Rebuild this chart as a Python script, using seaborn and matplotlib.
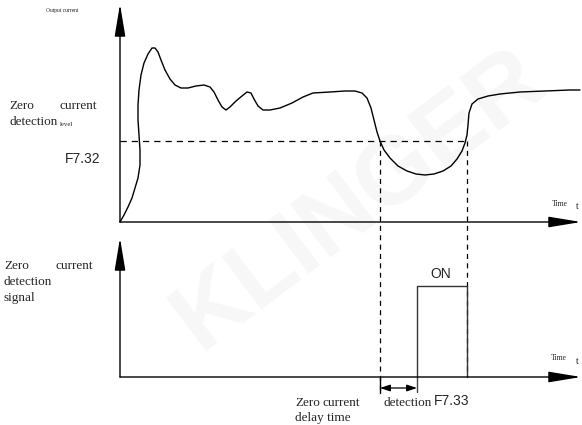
import matplotlib
matplotlib.use("Agg")
import matplotlib.pyplot as plt
import seaborn as sns
import pandas as pd

# ---- data (diagram coordinates, pixel space of the reference) ----
curve_x = [120, 124, 128, 132, 135, 138, 140, 140, 139, 138, 138, 139, 141, 144, 148, 152, 155, 158,
           161, 165, 170, 175, 181, 188, 196, 204, 210, 214, 218, 222, 226, 230, 236, 242, 247, 251,
           254, 258, 263, 270, 280, 292, 303, 313, 330, 345, 355, 362, 367, 371, 374, 377, 380, 384,
           390, 398, 407, 416, 425, 434, 443, 451, 457, 462, 465, 467, 468, 469, 472, 478, 488, 500,
           520, 545, 570, 580]
curve_y = [222, 215, 207, 198, 188, 178, 165, 150, 135, 120, 105, 90, 75, 63, 54, 48, 48, 52,
           60, 70, 79, 85, 88, 88, 86, 85, 87, 92, 100, 107, 110, 107, 101, 96, 92, 93,
           99, 106, 110, 110, 108, 103, 97, 93, 92, 91, 91, 93, 98, 108, 120, 132, 141, 150,
           158, 166, 171, 174, 175, 174, 171, 166, 159, 151, 143, 135, 125, 113, 104, 99, 96, 94,
           92, 91, 90, 90]
level_y = 141
cross_x = [380, 467]
pulse_x = [417, 417, 467, 467]
pulse_y = [377, 286, 286, 377]

sns.set_theme(style="white")
plt.rcParams["font.family"] = ["Liberation Serif", "DejaVu Serif"]

fig = plt.figure(figsize=(5.82, 4.25), dpi=100)
ax = fig.add_axes([0, 0, 1, 1])
ax.set_xlim(0, 582)
ax.set_ylim(425, 0)
ax.axis("off")

# watermark
ax.text(360, 200, "KLINGER", fontsize=70, fontweight="bold", color="#f7f7f7",
        family="Liberation Sans", rotation=37, ha="center", va="center", zorder=0)

ax_lw = 1.0

def arrow(x0, y0, x1, y1):
    ax.annotate("", xy=(x1, y1), xytext=(x0, y0),
                arrowprops=dict(arrowstyle="-|>,head_length=2.0,head_width=0.33",
                                color="black", lw=ax_lw, shrinkA=0, shrinkB=0,
                                mutation_scale=10))

# top axes
arrow(120, 222, 120, 4)
arrow(120, 222, 581, 222)
# bottom axes
arrow(120, 377, 120, 238)
arrow(120, 377, 581, 377)

# curve
df = pd.DataFrame({"x": curve_x, "y": curve_y})
sns.lineplot(data=df, x="x", y="y", sort=False, estimator=None, color="black", lw=1.0, ax=ax)

# dashed threshold & crossing lines
ax.plot([120, cross_x[1]], [level_y, level_y], ls=(0, (5, 4)), color="black", lw=0.9)
ax.plot([cross_x[0], cross_x[0]], [level_y, 390], ls=(0, (4, 3.5)), color="black", lw=0.9)
ax.plot([cross_x[1], cross_x[1]], [level_y, 377], ls=(0, (4, 3.5)), color="black", lw=0.9)

# pulse
sns.lineplot(x=pulse_x, y=pulse_y, sort=False, estimator=None, color="#333333", lw=1.0, ax=ax)

# delay ticks and double arrow
ax.plot([380, 380], [377, 393], color="black", lw=1.0)
ax.plot([417, 417], [377, 392], color="#444444", lw=1.0)
ax.annotate("", xy=(417, 388), xytext=(380, 388),
            arrowprops=dict(arrowstyle="<|-|>,head_length=0.6,head_width=0.2",
                            color="black", lw=0.9, shrinkA=0, shrinkB=0, mutation_scale=10))

# texts
serif = "Liberation Serif"
sans = "Liberation Sans"
fs = 9.5
ax.text(62, 10, "Output current", fontsize=4.0, family=serif, ha="center", va="center")
ax.text(9, 106, "Zero", fontsize=fs, family=serif, ha="left", va="center")
ax.text(97, 106, "current", fontsize=fs, family=serif, ha="right", va="center")
ax.text(9, 122, "detection", fontsize=fs, family=serif, ha="left", va="center")
ax.text(60, 124, "level", fontsize=5, family=serif, ha="left", va="center")
ax.text(65, 159, "F7.32", fontsize=10, family=sans, ha="left", va="center")
ax.text(560, 204, "Time", fontsize=5.5, family=serif, ha="center", va="center")
ax.text(576, 206, "t", fontsize=7, family=serif, ha="left", va="center")

ax.text(4, 266, "Zero", fontsize=fs, family=serif, ha="left", va="center")
ax.text(93, 266, "current", fontsize=fs, family=serif, ha="right", va="center")
ax.text(4, 282, "detection", fontsize=fs, family=serif, ha="left", va="center")
ax.text(4, 298, "signal", fontsize=fs, family=serif, ha="left", va="center")

ax.text(441, 274, "ON", fontsize=10, family=sans, ha="center", va="center")
ax.text(559, 358, "Time", fontsize=5.5, family=serif, ha="center", va="center")
ax.text(576, 362, "t", fontsize=7, family=serif, ha="left", va="center")

ax.text(295, 403, "Zero", fontsize=fs, family=serif, ha="left", va="center")
ax.text(341, 403, "current", fontsize=fs, family=serif, ha="center", va="center")
ax.text(432, 403, "detection", fontsize=fs, family=serif, ha="right", va="center")
ax.text(434, 401, "F7.33", fontsize=10, family=sans, ha="left", va="center")
ax.text(295, 418, "delay time", fontsize=fs, family=serif, ha="left", va="center")

fig.savefig("out.png", dpi=100)
